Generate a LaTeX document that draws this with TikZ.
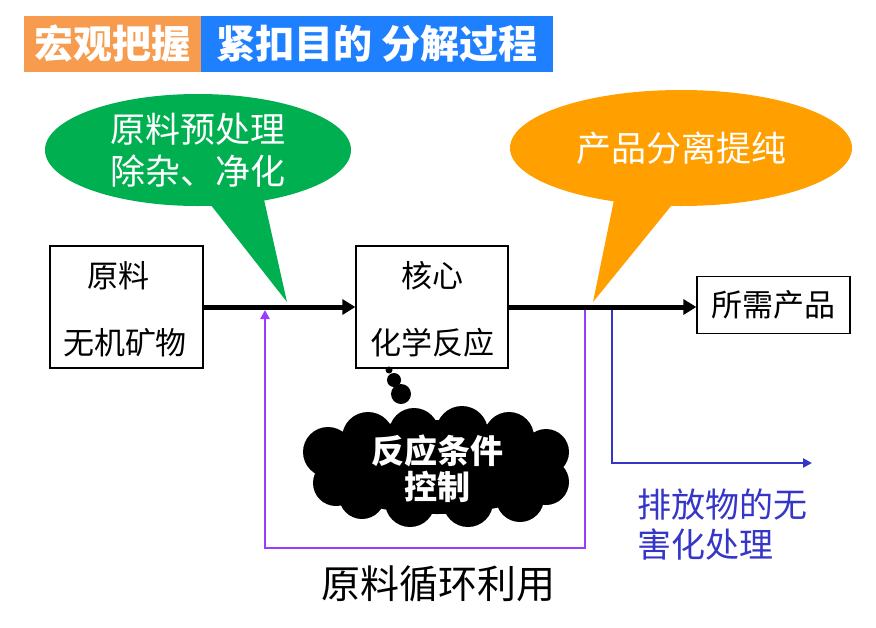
\documentclass[tikz,border=0pt]{standalone}
\usepackage{fontspec}
\setmainfont{Noto Sans CJK SC}
\usetikzlibrary{shapes.geometric,arrows.meta}
\definecolor{torange}{HTML}{F79B4E}
\definecolor{tblue}{HTML}{1E80FF}
\definecolor{bgreen}{HTML}{00AF50}
\definecolor{borange}{HTML}{FF9F00}
\definecolor{lpurple}{HTML}{9B3BFF}
\definecolor{lblue}{HTML}{3535C8}
\begin{document}
\begin{tikzpicture}[x=1pt,y=-1pt,
  box/.style={draw=black,line width=1.3pt,fill=white,inner sep=0pt},
  bigtxt/.style={font=\fontsize{31}{40}\selectfont},
  mainarrow/.style={line width=5pt,-{Triangle[length=13pt,width=15pt]}},
  loopline/.style={line width=2.8pt,draw=lpurple,-{Triangle[length=9pt,width=9pt]}},
  wasteline/.style={line width=2.8pt,draw=lblue,-{Triangle[length=9pt,width=9pt]}}]
\useasboundingbox (0,0) rectangle (876,627);
\fill[white] (0,0) rectangle (876,627);
% title
\node[fill=torange,text=white,minimum width=177pt,minimum height=56pt,inner sep=0pt,
  font=\fontsize{39}{42}\selectfont\bfseries] (t1) at (112.5,44) {宏观把握};
\node[fill=tblue,text=white,minimum width=352pt,minimum height=56pt,inner sep=0pt,
  font=\fontsize{39}{42}\selectfont\bfseries,anchor=west] (t2) at (t1.east) {紧扣目的 分解过程};
% speech bubbles
\node[ellipse,fill=bgreen,minimum width=306pt,minimum height=112pt,inner sep=0pt,
  text=white,align=center,font=\fontsize{35}{42}\selectfont] (pre) at (198,150) {原料预处理\\除杂、净化};
\coordinate (pretip) at (287,302);
\fill[bgreen] (203,195) -- (pretip) -- (263,195) -- cycle;
\node[ellipse,fill=borange,minimum width=342pt,minimum height=116pt,inner sep=0pt,
  text=white,font=\fontsize{35}{40}\selectfont] (sep) at (681,148) {产品分离提纯};
\coordinate (septip) at (593,302);
\fill[borange] (615,195) -- (septip) -- (680,195) -- cycle;
% boxes
\node[box,minimum width=153pt,minimum height=122pt] (raw) at (126.5,307) {};
\node[bigtxt] (rawa) at (118,276) {原料};
\node[bigtxt] (rawb) at (125,343) {无机矿物};
\node[box,minimum width=152pt,minimum height=122pt] (core) at (432,307) {};
\node[bigtxt] (corea) at (432,276) {核心};
\node[bigtxt] (coreb) at (432,343) {化学反应};
\node[box,minimum width=153pt,minimum height=57pt,bigtxt] (prod) at (773.5,305) {所需产品};
% main arrows
\draw[mainarrow] (raw.east |- 0,307) -- (core.west |- 0,307);
\draw[mainarrow] (core.east |- 0,307) -- (prod.west |- 0,307);
% recycle loop
\coordinate (lpA) at (585,310);
\coordinate (lpB) at (585,548);
\coordinate (lpC) at (265,548);
\coordinate (lpD) at (265,310);
\draw[loopline] (lpA) -- (lpB) -- (lpC) -- (lpD);
\node[font=\fontsize{39}{42}\selectfont] (recyc) at (438,584) {原料循环利用};
% waste line
\coordinate (wA) at (612,310);
\coordinate (wB) at (612,463);
\coordinate (wC) at (812,463);
\draw[wasteline] (wA) -- (wB) -- (wC);
\node[text=lblue,align=left,font=\fontsize{34}{40}\selectfont,anchor=west] (waste) at (634,525) {排放物的无\\害化处理};
% thought cloud
\fill[black] (389,370) circle (3.5pt);
\fill[black] (394,380) circle (7pt);
\fill[black] (401,394) circle (10pt);
\fill[black] (437,467) ellipse (120pt and 47pt);
\fill[black] (328,452) circle (25pt) (336,483) circle (23pt)
  (368,438) circle (26pt) (414,433) circle (25pt) (462,432) circle (26pt)
  (509,437) circle (25pt) (546,452) circle (23pt) (546,482) circle (23pt)
  (520,498) circle (24pt) (468,502) circle (25pt) (410,502) circle (25pt)
  (362,496) circle (23pt);
\node[text=white,align=center,inner sep=0pt,
  font=\fontsize{33}{36}\selectfont\bfseries] (ctrl) at (437,469) {反应条件\\控制};
\end{tikzpicture}
\end{document}
